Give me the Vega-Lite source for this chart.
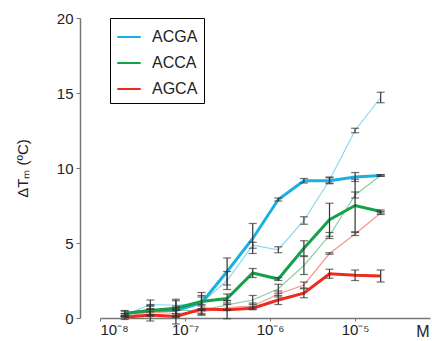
{
  "$schema": "https://vega.github.io/schema/vega-lite/v6.json",
  "width": 330,
  "height": 300,
  "autosize": "none",
  "padding": {"left": 100, "top": 18, "right": 2, "bottom": 23},
  "background": "white",
  "config": {
    "font": "Liberation Sans",
    "view": {"stroke": null}
  },
  "data": {
    "values": [
      {"x": 1.953e-8, "v": 0.3, "e": 0.2, "seq": "ACGA", "set": "main"},
      {"x": 3.906e-8, "v": 0.5, "e": 0.3, "seq": "ACGA", "set": "main"},
      {"x": 7.813e-8, "v": 0.5, "e": 0.3, "seq": "ACGA", "set": "main"},
      {"x": 1.5625e-7, "v": 1.0, "e": 0.5, "seq": "ACGA", "set": "main"},
      {"x": 3.125e-7, "v": 3.1, "e": 0.9, "seq": "ACGA", "set": "main"},
      {"x": 6.25e-7, "v": 5.3, "e": 1.0, "seq": "ACGA", "set": "main"},
      {"x": 1.25e-6, "v": 7.9, "e": 0.1, "seq": "ACGA", "set": "main"},
      {"x": 2.5e-6, "v": 9.15, "e": 0.15, "seq": "ACGA", "set": "main"},
      {"x": 5e-6, "v": 9.15, "e": 0.2, "seq": "ACGA", "set": "main"},
      {"x": 1e-5, "v": 9.4, "e": 0.3, "seq": "ACGA", "set": "main"},
      {"x": 2e-5, "v": 9.5, "e": 0.05, "seq": "ACGA", "set": "main"},
      {"x": 1.953e-8, "v": 0.2, "e": 0.1, "seq": "ACGA", "set": "thin"},
      {"x": 3.906e-8, "v": 0.9, "e": 0.3, "seq": "ACGA", "set": "thin"},
      {"x": 7.813e-8, "v": 0.85, "e": 0.3, "seq": "ACGA", "set": "thin"},
      {"x": 1.5625e-7, "v": 1.0, "e": 0.4, "seq": "ACGA", "set": "thin"},
      {"x": 3.125e-7, "v": 2.5, "e": 0.6, "seq": "ACGA", "set": "thin"},
      {"x": 6.25e-7, "v": 4.85, "e": 0.2, "seq": "ACGA", "set": "thin"},
      {"x": 1.25e-6, "v": 4.55, "e": 0.2, "seq": "ACGA", "set": "thin"},
      {"x": 2.5e-6, "v": 6.5, "e": 0.25, "seq": "ACGA", "set": "thin"},
      {"x": 5e-6, "v": 9.2, "e": 0.2, "seq": "ACGA", "set": "thin"},
      {"x": 1e-5, "v": 12.5, "e": 0.15, "seq": "ACGA", "set": "thin"},
      {"x": 2e-5, "v": 14.7, "e": 0.35, "seq": "ACGA", "set": "thin"},
      {"x": 1.953e-8, "v": 0.3, "e": 0.15, "seq": "ACCA", "set": "main"},
      {"x": 3.906e-8, "v": 0.5, "e": 0.4, "seq": "ACCA", "set": "main"},
      {"x": 7.813e-8, "v": 0.65, "e": 0.6, "seq": "ACCA", "set": "main"},
      {"x": 1.5625e-7, "v": 1.1, "e": 0.6, "seq": "ACCA", "set": "main"},
      {"x": 3.125e-7, "v": 1.3, "e": 0.3, "seq": "ACCA", "set": "main"},
      {"x": 6.25e-7, "v": 3.0, "e": 0.3, "seq": "ACCA", "set": "main"},
      {"x": 1.25e-6, "v": 2.6, "e": 0.1, "seq": "ACCA", "set": "main"},
      {"x": 2.5e-6, "v": 4.65, "e": 0.5, "seq": "ACCA", "set": "main"},
      {"x": 5e-6, "v": 6.55, "e": 1.1, "seq": "ACCA", "set": "main"},
      {"x": 1e-5, "v": 7.5, "e": 1.75, "seq": "ACCA", "set": "main"},
      {"x": 2e-5, "v": 7.1, "e": 0.1, "seq": "ACCA", "set": "main"},
      {"x": 1.953e-8, "v": 0.2, "e": 0.1, "seq": "ACCA", "set": "thin"},
      {"x": 3.906e-8, "v": 0.6, "e": 0.2, "seq": "ACCA", "set": "thin"},
      {"x": 7.813e-8, "v": 0.5, "e": 0.2, "seq": "ACCA", "set": "thin"},
      {"x": 1.5625e-7, "v": 0.5, "e": 0.3, "seq": "ACCA", "set": "thin"},
      {"x": 3.125e-7, "v": 0.87, "e": 0.3, "seq": "ACCA", "set": "thin"},
      {"x": 6.25e-7, "v": 1.2, "e": 0.3, "seq": "ACCA", "set": "thin"},
      {"x": 1.25e-6, "v": 1.95, "e": 0.3, "seq": "ACCA", "set": "thin"},
      {"x": 2.5e-6, "v": 3.5, "e": 0.6, "seq": "ACCA", "set": "thin"},
      {"x": 5e-6, "v": 5.5, "e": 0.2, "seq": "ACCA", "set": "thin"},
      {"x": 1e-5, "v": 8.2, "e": 0.2, "seq": "ACCA", "set": "thin"},
      {"x": 2e-5, "v": 9.5, "e": 0.05, "seq": "ACCA", "set": "thin"},
      {"x": 1.953e-8, "v": 0.05, "e": 0.15, "seq": "AGCA", "set": "main"},
      {"x": 3.906e-8, "v": 0.2, "e": 0.4, "seq": "AGCA", "set": "main"},
      {"x": 7.813e-8, "v": 0.1, "e": 0.5, "seq": "AGCA", "set": "main"},
      {"x": 1.5625e-7, "v": 0.6, "e": 0.3, "seq": "AGCA", "set": "main"},
      {"x": 3.125e-7, "v": 0.55, "e": 0.6, "seq": "AGCA", "set": "main"},
      {"x": 6.25e-7, "v": 0.65, "e": 0.1, "seq": "AGCA", "set": "main"},
      {"x": 1.25e-6, "v": 1.2, "e": 0.3, "seq": "AGCA", "set": "main"},
      {"x": 2.5e-6, "v": 1.65, "e": 0.3, "seq": "AGCA", "set": "main"},
      {"x": 5e-6, "v": 2.95, "e": 0.3, "seq": "AGCA", "set": "main"},
      {"x": 1e-5, "v": 2.85, "e": 0.35, "seq": "AGCA", "set": "main"},
      {"x": 2e-5, "v": 2.8, "e": 0.4, "seq": "AGCA", "set": "main"},
      {"x": 1.953e-8, "v": 0.1, "e": 0.05, "seq": "AGCA", "set": "thin"},
      {"x": 3.906e-8, "v": 0.4, "e": 0.2, "seq": "AGCA", "set": "thin"},
      {"x": 7.813e-8, "v": 0.3, "e": 0.2, "seq": "AGCA", "set": "thin"},
      {"x": 1.5625e-7, "v": 0.4, "e": 0.2, "seq": "AGCA", "set": "thin"},
      {"x": 3.125e-7, "v": 0.7, "e": 0.2, "seq": "AGCA", "set": "thin"},
      {"x": 6.25e-7, "v": 0.8, "e": 0.2, "seq": "AGCA", "set": "thin"},
      {"x": 1.25e-6, "v": 1.6, "e": 0.2, "seq": "AGCA", "set": "thin"},
      {"x": 2.5e-6, "v": 2.2, "e": 0.2, "seq": "AGCA", "set": "thin"},
      {"x": 5e-6, "v": 4.3, "e": 0.05, "seq": "AGCA", "set": "thin"},
      {"x": 1e-5, "v": 5.6, "e": 0.1, "seq": "AGCA", "set": "thin"},
      {"x": 2e-5, "v": 7.0, "e": 0.1, "seq": "AGCA", "set": "thin"}
    ]
  },
  "encoding": {
    "x": {
      "field": "x",
      "type": "quantitative",
      "scale": {"type": "log", "domain": [1e-8, 7.6e-5], "nice": false},
      "axis": {
        "values": [1e-8, 1e-7, 1e-6, 1e-5],
        "labelExpr": "datum.value < 5e-8 ? '10⁻⁸' : datum.value < 5e-7 ? '10⁻⁷' : datum.value < 5e-6 ? '10⁻⁶' : '10⁻⁵'",
        "labelFontSize": 15,
        "labelColor": "#222",
        "labelPadding": 1,
        "tickSize": 3,
        "tickColor": "#777",
        "domainColor": "#777",
        "domainWidth": 1.5,
        "grid": false,
        "title": "M",
        "titleFontSize": 16,
        "titleFontWeight": "normal",
        "titleColor": "#222",
        "titleAnchor": "end",
        "titleAlign": "right",
        "titleBaseline": "top",
        "titleX": 329,
        "titleY": 5
      }
    },
    "y": {
      "field": "v",
      "type": "quantitative",
      "scale": {"domain": [0, 20], "nice": false},
      "axis": {
        "values": [0, 5, 10, 15, 20],
        "offset": 20,
        "labelFontSize": 15,
        "labelColor": "#222",
        "labelPadding": 3,
        "tickSize": 4,
        "tickColor": "#777",
        "domainColor": "#777",
        "domainWidth": 1.5,
        "grid": false,
        "title": "ΔTₘ (ºC)",
        "titleFontSize": 15,
        "titleFontWeight": "normal",
        "titleColor": "#222",
        "titleAngle": -90,
        "titleBaseline": "middle",
        "titleAlign": "center",
        "titleX": -58,
        "titleY": 150
      }
    }
  },
  "layer": [
    {
      "mark": {"type": "line"},
      "encoding": {
        "color": {
          "field": "seq",
          "type": "nominal",
          "scale": {"domain": ["ACGA", "ACCA", "AGCA"], "range": ["#1ab0e3", "#17a04a", "#ee2b1f"]},
          "legend": {
            "title": null,
            "orient": "none",
            "legendX": 10,
            "legendY": 0,
            "strokeColor": "black",
            "fillColor": "white",
            "padding": 6,
            "symbolType": "stroke",
            "symbolSize": 550,
            "symbolStrokeWidth": 2,
            "labelFontSize": 16,
            "labelColor": "#222",
            "labelOffset": 10,
            "rowPadding": 5
          }
        },
        "strokeWidth": {
          "field": "set",
          "type": "nominal",
          "scale": {"domain": ["main", "thin"], "range": [3, 1.2]},
          "legend": null
        },
        "opacity": {
          "field": "set",
          "type": "nominal",
          "scale": {"domain": ["main", "thin"], "range": [1, 0.5]},
          "legend": null
        }
      }
    },
    {
      "mark": {"type": "errorbar", "ticks": true, "color": "#333", "thickness": 1.2, "size": 8},
      "encoding": {
        "y": {"field": "v", "type": "quantitative"},
        "yError": {"field": "e"},
        "detail": [{"field": "seq"}, {"field": "set"}]
      }
    }
  ]
}
